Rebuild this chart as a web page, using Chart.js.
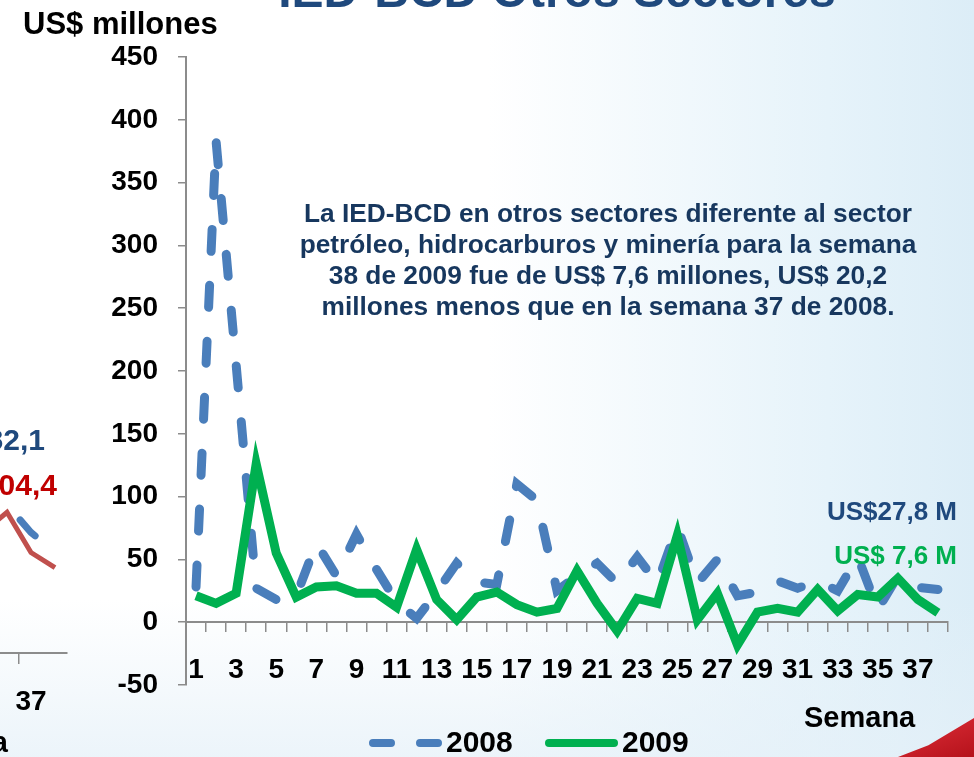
<!DOCTYPE html>
<html>
<head>
<meta charset="utf-8">
<script src="https://cdn.jsdelivr.net/npm/chart.js@4.4.0/dist/chart.umd.min.js"></script>
<style>
html, body { margin: 0; padding: 0; }
body {
    width: 974px; height: 757px; overflow: hidden; position: relative;
    font-family: "Liberation Sans", Arial, sans-serif; font-weight: bold;
    background: linear-gradient(90deg, #ffffff 0%, #ffffff 50%, #e6f3fa 85%, #dcedf7 100%);
}
.fondo-bajo { position: absolute; left: 0; top: 600px; width: 974px; height: 157px;
    background: linear-gradient(180deg, rgba(235,244,250,0) 0%, rgba(228,240,248,0.7) 100%); }
.rojo { position: absolute; left: 898px; top: 718px; width: 76px; height: 39px;
    background: linear-gradient(160deg, #e0303a, #b5121b);
    clip-path: polygon(0 100%, 40% 70%, 100% 0, 100% 100%); }
canvas { position: absolute; top: 0; }
.txt { position: absolute; white-space: nowrap; line-height: 1; }
</style>
</head>
<body>
<div class="fondo-bajo"></div>
<div class="rojo"></div>
<canvas id="graficoPrevio" width="156" height="757" style="left:-59px"></canvas>
<canvas id="grafico" width="974" height="757" style="left:0"></canvas>

<div class="txt" style="left:0; width:974px; text-align:center; padding-left:140px; box-sizing:border-box; top:-33px; font-size:48px; color:#1f497d;">IED-BCD Otros Sectores</div>
<div class="txt" style="left:23px; top:8px; font-size:31px; color:#000;">US$ millones</div>
<div class="txt" style="left:804px; top:703px; font-size:29px; color:#000;">Semana</div>
<div class="txt" style="right:966px; top:728px; font-size:29px; color:#000;">Semana</div>
<div class="txt" style="right:929px; top:425px; font-size:30px; color:#1f497d;">US$ 82,1</div>
<div class="txt" style="right:917px; top:470px; font-size:30px; color:#c00000;">US$ 104,4</div>
<div class="txt" style="left:258px; width:700px; top:198px; text-align:center; font-size:26.3px; line-height:31px; color:#17375e;">
La IED-BCD en otros sectores diferente al sector<br>
petróleo, hidrocarburos y minería para la semana<br>
38 de 2009 fue de US$ 7,6 millones, US$ 20,2<br>
millones menos que en la semana 37 de 2008.
</div>
<div class="txt" style="right:17px; top:498px; font-size:26px; color:#1f497d;">US$27,8 M</div>
<div class="txt" style="right:17px; top:542px; font-size:26px; color:#00b050;">US$ 7,6 M</div>

<script>
// Semanas del año
const semanas = ['1', '2', '3', '4', '5', '6', '7', '8', '9', '10',
    '11', '12', '13', '14', '15', '16', '17', '18', '19', '20',
    '21', '22', '23', '24', '25', '26', '27', '28', '29', '30',
    '31', '32', '33', '34', '35', '36', '37', '38'];

// IED-BCD otros sectores, US$ millones
const ied2008 = [28, 383, 205, 27, 18, 21, 63, 37, 70, 42,
    16, 3, 24, 47, 32, 30, 110, 97, 25, 37,
    47, 31, 52, 31, 76, 31, 50, 21, 24, 33,
    27, 33, 25, 52, 10, 37, 27.8, 26];
const ied2009 = [21, 15, 23, 126, 55, 20, 28, 29, 23, 23,
    12, 58, 18, 2, 20, 24, 14, 8, 11, 41,
    15, -7, 19, 15, 69, 2, 23, -18, 8, 11,
    8, 26, 9, 22, 20, 35, 18, 7.6];

// Eje Y
const yMin = -50;
const yMax = 450;
const yPaso = 50;

// Final del grafico anterior (recortado a la izquierda)
const semanasPrevio = ['35', '36', '37', '38'];
const previo2008 = [null, 118, 96, 80];
const previo2009 = [96, 112, 80, 68];

Chart.defaults.font.family = '"Liberation Sans", Arial, sans-serif';
Chart.defaults.color = '#000';

const azul = '#4a7ebb';
const verde = '#00b050';
const gris = '#8c8c8c';

// Leyenda dibujada a mano debajo del eje
const leyenda = {
    id: 'leyenda',
    afterDraw(chart) {
        const ctx = chart.ctx;
        const items = [
            { ds: 0, x1: 373, x2: 438, texto: '2008', dash: [18, 29] },
            { ds: 1, x1: 549, x2: 614, texto: '2009', dash: [] }
        ];
        const y = 743;
        ctx.save();
        items.forEach(it => {
            const d = chart.data.datasets[it.ds];
            ctx.beginPath();
            ctx.strokeStyle = d.borderColor;
            ctx.lineWidth = 8;
            ctx.lineCap = 'round';
            ctx.setLineDash(it.dash);
            ctx.moveTo(it.x1, y);
            ctx.lineTo(it.x2, y);
            ctx.stroke();
            ctx.setLineDash([]);
            ctx.fillStyle = '#000';
            ctx.font = 'bold 30px "Liberation Sans", Arial, sans-serif';
            ctx.textBaseline = 'middle';
            ctx.fillText(it.texto, it.x2 + 8, y + 1);
        });
        ctx.restore();
    }
};

function crearGraficos() {
    try {
        const ctxPrevio = document.getElementById('graficoPrevio').getContext('2d');
        new Chart(ctxPrevio, {
            type: 'line',
            data: {
                labels: semanasPrevio,
                datasets: [{
                    data: previo2008,
                    borderColor: azul,
                    borderWidth: 7,
                    borderDash: [22, 34],
                    borderDashOffset: 36,
                    borderCapStyle: 'round',
                    pointRadius: 0,
                    order: 1
                }, {
                    data: previo2009,
                    borderColor: '#c0504d',
                    borderWidth: 5,
                    pointRadius: 0,
                    order: 0
                }]
            },
            options: {
                responsive: false,
                animation: false,
                events: [],
                layout: { padding: { top: 150.6, bottom: 104, left: 30, right: 30 } },
                plugins: { legend: { display: false }, tooltip: { enabled: false } },
                scales: {
                    y: { display: false, min: 0, max: 400 },
                    x: {
                        position: { y: 0 },
                        offset: true,
                        grid: {
                            offset: true, drawOnChartArea: false, tickLength: 10, lineWidth: 1.5,
                            color: c => (c.index % 2 === 0 ? gris : 'rgba(0,0,0,0)')
                        },
                        border: { color: gris, width: 2 },
                        ticks: {
                            autoSkip: false, maxRotation: 0, padding: 22,
                            font: { size: 28, weight: 'bold' },
                            callback: function (v, i) { return i === 2 ? this.getLabelForValue(v) : ''; }
                        }
                    }
                }
            }
        });

        const ctx = document.getElementById('grafico').getContext('2d');
        new Chart(ctx, {
            type: 'line',
            data: {
                labels: semanas,
                datasets: [{
                    label: '2008',
                    data: ied2008,
                    borderColor: azul,
                    borderWidth: 9,
                    borderDash: [22, 34],
                    borderCapStyle: 'round',
                    pointRadius: 0,
                    order: 1
                }, {
                    label: '2009',
                    data: ied2009,
                    borderColor: verde,
                    borderWidth: 9,
                    pointRadius: 0,
                    order: 0
                }]
            },
            options: {
                responsive: false,
                animation: false,
                events: [],
                layout: { padding: { top: 57, bottom: 72, left: 0, right: 26 } },
                plugins: { legend: { display: false }, tooltip: { enabled: false } },
                scales: {
                    y: {
                        min: yMin,
                        max: yMax,
                        afterFit: s => { s.width = 186; },
                        grid: { drawOnChartArea: false, tickLength: 8, color: gris, lineWidth: 1.5 },
                        border: { color: gris, width: 2 },
                        ticks: { stepSize: yPaso, padding: 20, font: { size: 28, weight: 'bold' } }
                    },
                    x: {
                        position: { y: 0 },
                        offset: true,
                        grid: { offset: true, drawOnChartArea: false, tickLength: 9, color: gris, lineWidth: 1.5 },
                        border: { color: gris, width: 2 },
                        ticks: {
                            autoSkip: false, maxRotation: 0, padding: 22,
                            font: { size: 28, weight: 'bold' },
                            callback: function (v, i) { return i % 2 === 0 ? this.getLabelForValue(v) : ''; }
                        }
                    }
                }
            },
            plugins: [leyenda]
        });
    } catch (error) {
        console.error('Error al crear los gráficos:', error);
    }
}

document.addEventListener('DOMContentLoaded', function () {
    crearGraficos();
});
</script>
</body>
</html>
